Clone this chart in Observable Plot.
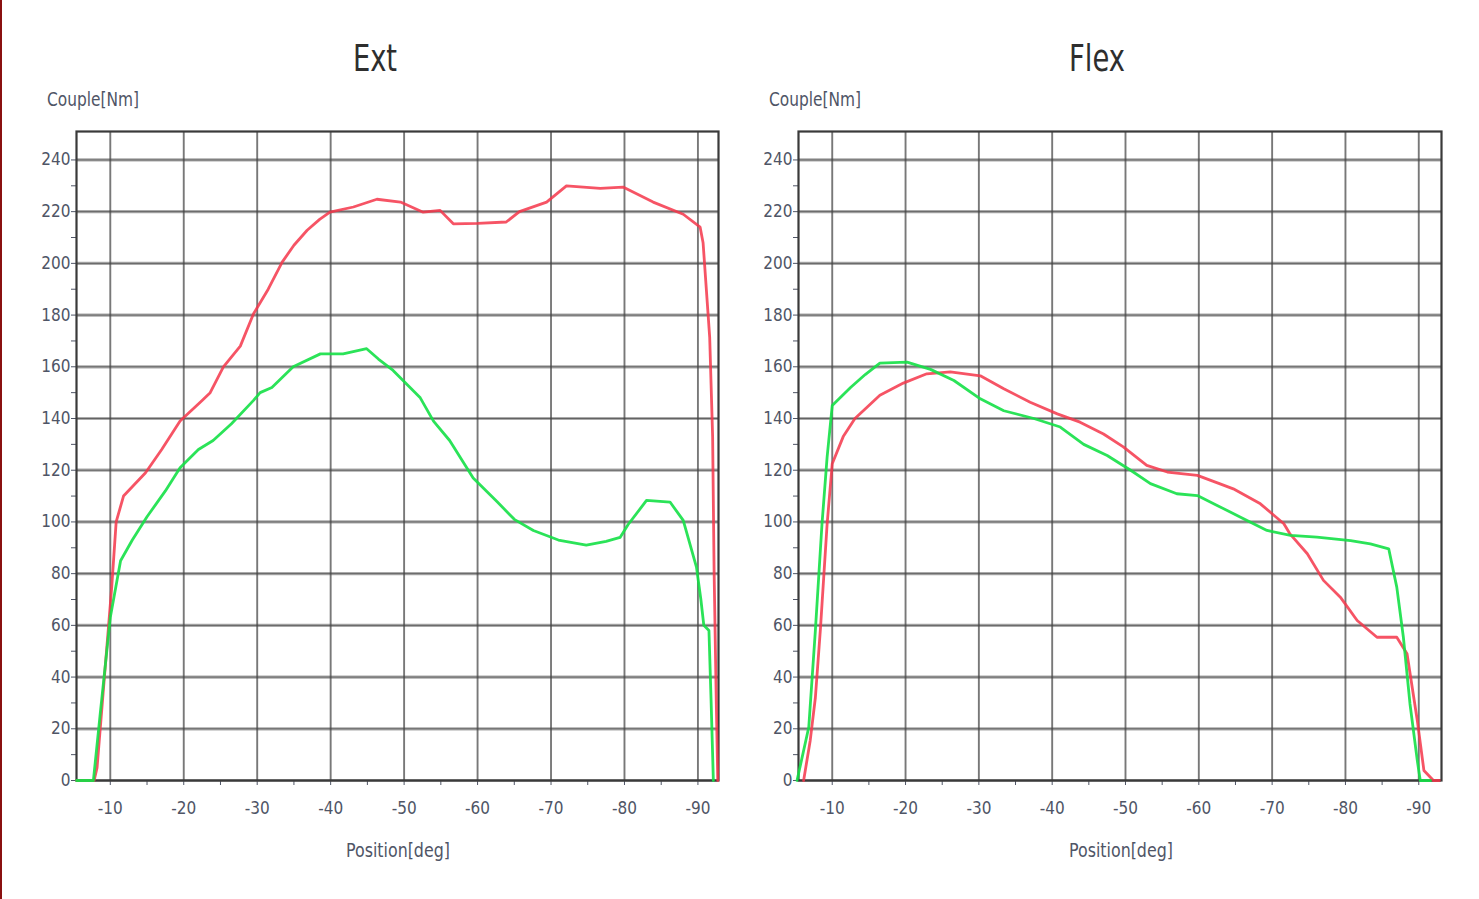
<!DOCTYPE html>
<html>
<head>
<meta charset="utf-8">
<script src="https://cdn.jsdelivr.net/npm/d3@7"></script>
<script src="https://cdn.jsdelivr.net/npm/@observablehq/plot@0.6"></script>
<style>
  html, body { margin: 0; padding: 0; background: #ffffff; }
  #page { position: relative; width: 1479px; height: 899px; overflow: hidden; background: #fff; }
  #edge { position: absolute; left: 0; top: 0; width: 2px; height: 899px; background: #8a1010; }
  .chart { position: absolute; top: 0; }
  .lbl { position: absolute; line-height: 1; white-space: nowrap; font-family: "DejaVu Sans Condensed", "DejaVu Sans", sans-serif; font-stretch: condensed; }
  .title { font-size: 38px; color: #2e2e2e; transform-origin: 0 0; transform: scaleX(0.8) translateX(-50%); }
  .ylab { font-size: 19px; color: #4f5566; transform-origin: 0 0; transform: scaleX(0.9); }
  .xlab { font-size: 20px; color: #4f5566; transform-origin: 0 0; transform: scaleX(0.88) translateX(-50%); }
</style>
</head>
<body>
<div id="page">
  <div id="edge"></div>
  <div class="lbl title" style="left:375px; top:39px;">Ext</div>
  <div class="lbl title" style="left:1097px; top:39px;">Flex</div>
  <div class="lbl ylab" style="left:47px; top:90px;">Couple[Nm]</div>
  <div class="lbl ylab" style="left:769px; top:90px;">Couple[Nm]</div>
  <div class="lbl xlab" style="left:398px; top:840px;">Position[deg]</div>
  <div class="lbl xlab" style="left:1121px; top:840px;">Position[deg]</div>
</div>
<script>
// ---- Data (Position in deg, Couple in Nm) ----
const xTickValues = [-10, -15, -20, -25, -30, -35, -40, -45, -50, -55, -60, -65, -70, -75, -80, -85, -90];
const xGridValues = [-10, -20, -30, -40, -50, -60, -70, -80, -90];
const yTickValues = [0, 10, 20, 30, 40, 50, 60, 70, 80, 90, 100, 110, 120, 130, 140, 150, 160, 170, 180, 190, 200, 210, 220, 230, 240];
const yGridValues = [0, 20, 40, 60, 80, 100, 120, 140, 160, 180, 200, 220, 240];

// Ext – red series
const extRedDeg = [-5.4, -7.8, -8.2, -9.2, -10.2, -10.8, -11.8, -14.8, -17, -19.5, -22.5, -23.6, -25.4, -27.7, -29.5, -31.5, -33.4, -35, -36.8, -38.5, -39.9, -43.1, -46.3, -49.5, -52.6, -54.9, -56.7, -60, -63.9, -65.7, -69.4, -72.1, -76.7, -79.8, -83.9, -88, -90.3, -90.7, -91.6, -92, -92.2, -92.5, -92.7];
const extRedNm  = [0, 0, 5, 40, 75, 100, 110, 119, 128, 139, 147, 150, 160, 168, 180.5, 190, 200.5, 207, 212.8, 217, 219.8, 221.8, 224.8, 223.7, 219.8, 220.5, 215.3, 215.5, 216, 220, 223.7, 230, 229, 229.5, 223.7, 219, 214, 208, 171.5, 133, 81, 30, 0];
// Ext – green series
const extGreenDeg = [-5.4, -7.7, -8.6, -10, -11.4, -13, -15, -17.5, -19.5, -22, -24, -26.5, -29.5, -30.4, -32, -34.9, -38.6, -41.7, -44.9, -46.5, -48.5, -52.2, -54, -56.2, -59.4, -62.6, -65, -67.6, -71, -74.8, -77.5, -79.4, -80.5, -83, -86.2, -88, -89.8, -90.4, -90.8, -91.5, -91.8, -92.1];
const extGreenNm  = [0, 0, 25, 63, 85, 93, 102, 112, 121, 128, 131.5, 138, 147, 150, 152, 160, 165, 165, 167, 163, 158.6, 148, 139, 131.5, 117, 108, 101, 96.7, 93, 91, 92.5, 94, 99, 108.3, 107.7, 100.6, 82.5, 70, 60, 58, 30, 0];

// Flex – red series
const flexRedDeg = [-6.1, -7, -7.7, -8.4, -9.3, -10, -11.5, -13.1, -16.5, -19.7, -22.9, -26.1, -30.2, -33.4, -37, -40.7, -43.8, -47, -49.7, -52.9, -55.7, -59.8, -62.9, -64.7, -68.4, -71.6, -72.4, -74.8, -77, -79.3, -81.6, -84.3, -87, -88.4, -89.8, -90.7, -92, -92.8];
const flexRedNm  = [0, 15.5, 32, 59, 99, 122.5, 133, 140, 149, 153.7, 157.3, 158, 156.5, 151.5, 146.3, 141.8, 138.6, 134, 129, 121.9, 119.3, 118, 114.7, 112.8, 107, 99.3, 95.5, 87.7, 77.4, 70.9, 61.9, 55.4, 55.4, 49, 23.2, 3.9, 0, 0];
// Flex – green series
const flexGreenDeg = [-5.2, -6.8, -7.7, -8.6, -9.3, -10, -12.5, -14.5, -16.5, -20.2, -23.4, -26.6, -30.2, -33.4, -37.5, -41.1, -44.3, -47.5, -50.7, -53.4, -57, -59.8, -62.5, -66.1, -69.3, -72.5, -76.1, -80.7, -83.4, -85.9, -87, -87.9, -88.8, -89.8, -90.2, -91.6];
const flexGreenNm  = [0, 20.6, 58, 99, 125, 145, 152, 157, 161.4, 161.8, 159, 154.7, 147.6, 143, 140, 136.7, 130, 125.7, 120, 114.8, 110.9, 110.2, 106.4, 101.2, 96.7, 94.8, 94.1, 92.8, 91.5, 89.6, 74.8, 55.4, 29.7, 7.7, 0, 0];

const RED = "#f5364a";
const GREEN = "#14e046";

function toRows(degs, vals) {
  return degs.map((d, i) => ({deg: d, nm: vals[i]}));
}

function makeChart({red, green, xDomain, width, marginLeft, marginRight}) {
  return Plot.plot({
    width,
    height: 899,
    marginTop: 131,
    marginBottom: 119,
    marginLeft,
    marginRight,
    style: {
      background: "transparent",
      fontFamily: "'DejaVu Sans Condensed', 'DejaVu Sans', sans-serif",
      fontSize: "17px",
      color: "#4f5566"
    },
    x: {
      domain: xDomain,
      ticks: xTickValues,
      tickFormat: d => (d % 10 === 0 ? String(d) : ""),
      tickSize: 5,
      tickPadding: 16,
      label: null
    },
    y: {
      domain: [0, 251],
      ticks: yTickValues,
      tickFormat: d => (d % 20 === 0 ? String(d) : ""),
      tickSize: 5,
      tickPadding: 1,
      label: null
    },
    marks: [
      Plot.ruleY(yGridValues, {stroke: "#555", strokeWidth: 3.2, strokeOpacity: 0.5}),
      Plot.ruleY(yGridValues, {stroke: "#333", strokeWidth: 1, strokeOpacity: 0.6}),
      Plot.ruleX(xGridValues, {stroke: "#444", strokeWidth: 1.9, strokeOpacity: 0.72}),
      Plot.frame({stroke: "#3a3a3a", strokeWidth: 2.2}),
      Plot.line(red, {x: "deg", y: "nm", stroke: RED, strokeWidth: 2.8, strokeOpacity: 0.85, strokeLinejoin: "round"}),
      Plot.line(green, {x: "deg", y: "nm", stroke: GREEN, strokeWidth: 2.8, strokeOpacity: 0.9, strokeLinejoin: "round"})
    ]
  });
}

const page = document.getElementById("page");

const ext = makeChart({
  red: toRows(extRedDeg, extRedNm),
  green: toRows(extGreenDeg, extGreenNm),
  xDomain: [-5.4, -92.8],
  width: 740,
  marginLeft: 76,
  marginRight: 22
});
ext.classList.add("chart");
ext.style.left = "0px";
page.appendChild(ext);

const flex = makeChart({
  red: toRows(flexRedDeg, flexRedNm),
  green: toRows(flexGreenDeg, flexGreenNm),
  xDomain: [-5.4, -93.1],
  width: 739,
  marginLeft: 58,
  marginRight: 38
});
flex.classList.add("chart");
flex.style.left = "740px";
page.appendChild(flex);
</script>
</body>
</html>
